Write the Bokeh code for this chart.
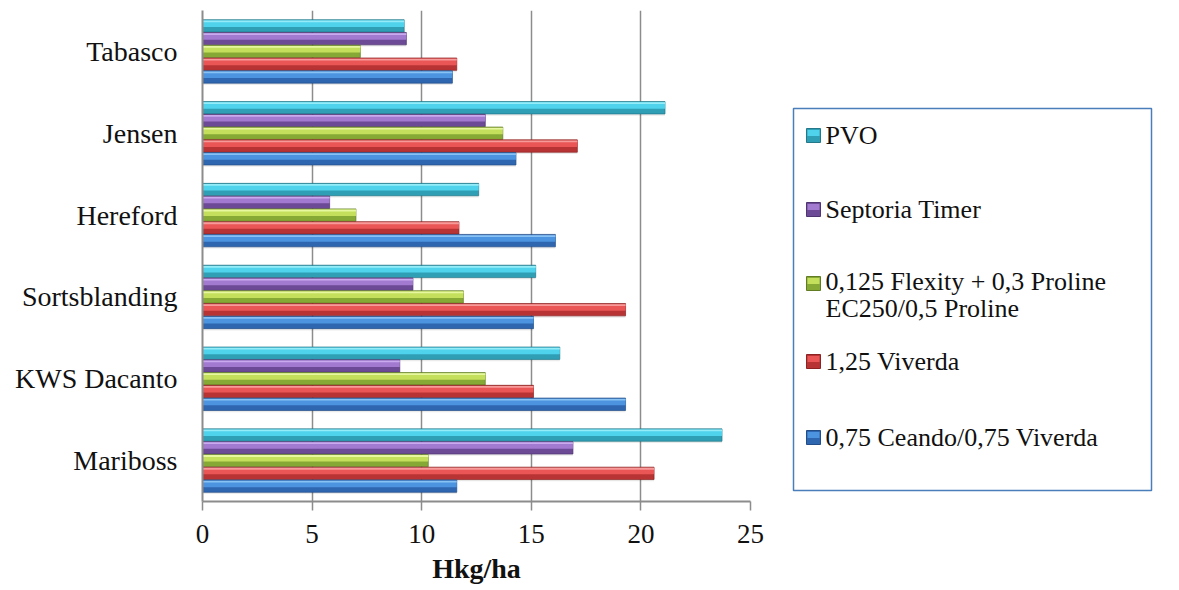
from bokeh.plotting import figure
from bokeh.models import ColumnDataSource, FactorRange, Range1d, FixedTicker, Label, Title
from bokeh.transform import dodge
from bokeh.layouts import row
from bokeh.embed import file_html
from bokeh.resources import INLINE

# ---- data ----
categories = ["Tabasco", "Jensen", "Hereford", "Sortsblanding", "KWS Dacanto", "Mariboss"]
series_names = ["PVO", "Septoria Timer", "0,125 Flexity + 0,3 Proline\nEC250/0,5 Proline",
                "1,25 Viverda", "0,75 Ceando/0,75 Viverda"]
pvo = [9.2, 21.1, 12.6, 15.2, 16.3, 23.7]
septoria = [9.3, 12.9, 5.8, 9.6, 9.0, 16.9]
flexity = [7.2, 13.7, 7.0, 11.9, 12.9, 10.3]
viverda = [11.6, 17.1, 11.7, 19.3, 15.1, 20.6]
ceando = [11.4, 14.3, 16.1, 15.1, 19.3, 11.6]
series_values = [pvo, septoria, flexity, viverda, ceando]
x_ticks = [0, 5, 10, 15, 20, 25]
x_title = "Hkg/ha"

# colours: (upper, lower, highlight, edge)
palette = [
    ("#4fd3ec", "#2f9fb5", "#95ecf9", "#23798a"),
    ("#a27ad0", "#6c4a96", "#c9aaef", "#4e3470"),
    ("#c3df5c", "#86a834", "#e6f7a0", "#627c24"),
    ("#ea5656", "#b83434", "#f79a9a", "#8c2222"),
    ("#4c94e0", "#2e66b0", "#88c1f4", "#224d86"),
]

FONT = "Liberation Serif"

p = figure(width=790, height=590, output_backend="svg", toolbar_location=None,
           y_range=FactorRange(factors=list(reversed(categories)), range_padding=0),
           x_range=Range1d(0, 25),
           min_border_left=202, min_border_right=40, min_border_top=10, min_border_bottom=89)
p.outline_line_color = None
p.background_fill_color = "white"
p.border_fill_color = "white"

h = 0.156
offsets = [2 * h, h, 0.0, -h, -2 * h]
for vals, off, (up, low, hi, edge) in zip(series_values, offsets, palette):
    src = ColumnDataSource(dict(cat=categories, v=vals))
    # soft shadow
    p.hbar(y=dodge("cat", off - 0.035, range=p.y_range), left=0, right="v", height=h * 0.8,
           source=src, fill_color="#000000", fill_alpha=0.08, line_color=None)
    # base (lower, darker half)
    p.hbar(y=dodge("cat", off, range=p.y_range), left=0, right="v", height=h * 0.97,
           source=src, fill_color=low, line_color=edge, line_width=0.7)
    # upper bright half
    p.hbar(y=dodge("cat", off + h * 0.17, range=p.y_range), left=0, right="v", height=h * 0.5,
           source=src, fill_color=up, line_color=None)
    # top highlight
    p.hbar(y=dodge("cat", off + h * 0.36, range=p.y_range), left=0, right="v", height=h * 0.14,
           source=src, fill_color=hi, line_color=None)

p.xaxis.ticker = FixedTicker(ticks=x_ticks)
p.xgrid.ticker = FixedTicker(ticks=x_ticks)
p.xgrid.grid_line_color = "#8c8c8c"
p.xgrid.grid_line_width = 1.5
p.ygrid.grid_line_color = None

p.xaxis.axis_line_color = "#8c8c8c"
p.xaxis.axis_line_width = 2
p.xaxis.major_tick_line_color = "#8c8c8c"
p.xaxis.major_tick_line_width = 1.5
p.xaxis.major_tick_in = 0
p.xaxis.major_tick_out = 9
p.xaxis.minor_tick_line_color = None
p.xaxis.major_label_text_font = FONT
p.xaxis.major_label_text_font_size = "27px"
p.xaxis.major_label_text_color = "#111111"
p.xaxis.major_label_standoff = 14

# axis title as a Title in the panel below the axis
p.add_layout(Title(text=x_title, align="center", text_font=FONT, text_font_style="bold",
                   text_font_size="28px", text_color="#111111", standoff=11, offset=0), "below")

p.yaxis.axis_line_color = "#8c8c8c"
p.yaxis.axis_line_width = 2
p.yaxis.major_tick_line_color = None
p.yaxis.major_tick_out = 0
p.yaxis.major_tick_in = 0
p.yaxis.major_label_text_font = FONT
p.yaxis.major_label_text_font_size = "28px"
p.yaxis.major_label_text_color = "#111111"
p.yaxis.major_label_standoff = 25

# ---- legend panel (frame aligned with the chart: screen y 10..501) ----
leg = figure(width=389, height=590, output_backend="svg", toolbar_location=None,
             x_range=Range1d(0, 389), y_range=Range1d(501, 10),
             min_border_left=0, min_border_right=0, min_border_top=10, min_border_bottom=89)
leg.axis.visible = False
leg.grid.visible = False
leg.outline_line_color = None
leg.background_fill_color = "white"
leg.border_fill_color = "white"
leg.quad(left=3, right=361, top=108, bottom=490, fill_color="white",
         line_color="#4a7ebb", line_width=1.5)

item_y = [135, 209, 283, 361, 437]
line_gap = 27
for name, yc, (up, low, hi, edge) in zip(series_names, item_y, palette):
    leg.rect(x=[23], y=[yc], width=14, height=14, fill_color=low, line_color=edge, line_width=1)
    leg.rect(x=[23], y=[yc - 2.5], width=12, height=6, fill_color=up, line_color=None)
    lines = name.split("\n")
    ys = [yc - 2 + i * line_gap for i in range(len(lines))] if len(lines) > 1 else [yc]
    for ln, yy in zip(lines, ys):
        leg.add_layout(Label(x=35, y=yy, text=ln, text_font=FONT, text_font_size="26px",
                             text_baseline="middle", text_align="left", text_color="#111111"))

layout = row(p, leg)
open("out.html", "w").write(file_html(layout, INLINE))
